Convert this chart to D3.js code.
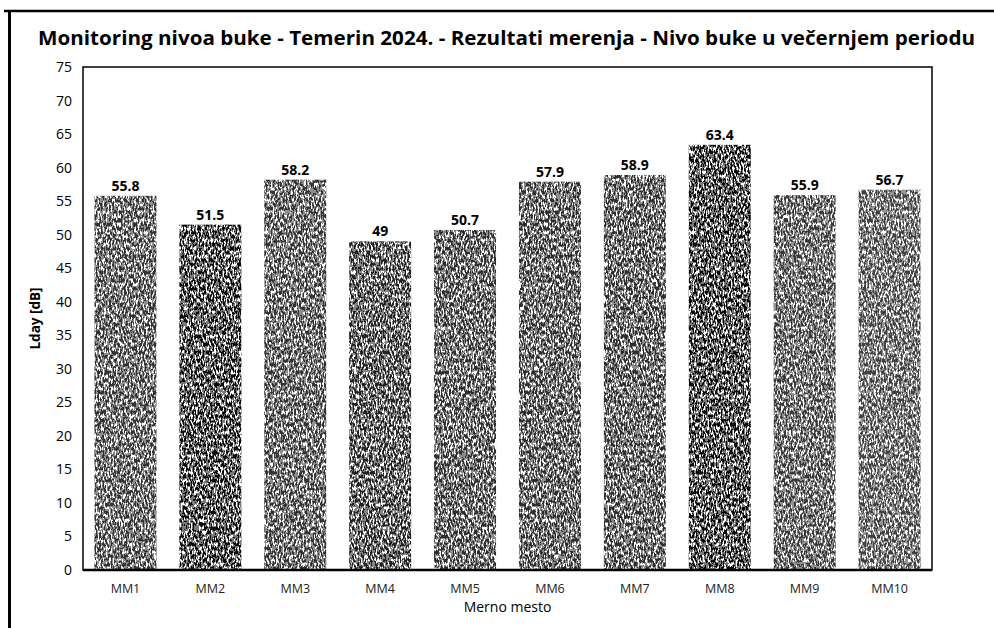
<!DOCTYPE html>
<html>
<head>
<meta charset="utf-8">
<script src="https://cdn.jsdelivr.net/npm/d3@7"></script>
<style>
  html, body { margin: 0; padding: 0; background: #fff; }
  svg { display: block; font-family: "Open Sans", "Noto Sans", sans-serif; }
</style>
</head>
<body>
<svg id="chart" width="994" height="628"></svg>
<script>
// Measurement points and evening noise levels (dB)
const categories = ["MM1", "MM2", "MM3", "MM4", "MM5", "MM6", "MM7", "MM8", "MM9", "MM10"];
const values = [55.8, 51.5, 58.2, 49, 50.7, 57.9, 58.9, 63.4, 55.9, 56.7];
const yTicks = [0, 5, 10, 15, 20, 25, 30, 35, 40, 45, 50, 55, 60, 65, 70, 75];

const titleText = "Monitoring nivoa buke - Temerin 2024. - Rezultati merenja - Nivo buke u večernjem periodu";
const yTitle = "Lday [dB]";
const xTitle = "Merno mesto";

// Base tone of each printed bar
const barShades = ["#333333", "#0c0c0c", "#333333", "#222222", "#2e2e2e", "#2e2e2e", "#2e2e2e", "#0a0a0a", "#383838", "#404040"];

const svg = d3.select("#chart");
const margin = { left: 83, top: 67, right: 62, bottom: 58 };
const W = 994, H = 628;
const plotW = W - margin.left - margin.right;
const plotH = H - margin.top - margin.bottom;

// Speckled print texture for the bars
const defs = svg.append("defs");
const f = defs.append("filter").attr("id", "grain")
  .attr("x", 0).attr("y", 0).attr("width", 1).attr("height", 1)
  .attr("color-interpolation-filters", "sRGB");
f.append("feTurbulence").attr("type", "fractalNoise")
  .attr("baseFrequency", "0.6 0.25").attr("numOctaves", 2).attr("seed", 7).attr("result", "noise");
f.append("feColorMatrix").attr("in", "noise").attr("type", "matrix")
  .attr("values", "0 0 0 0 1  0 0 0 0 1  0 0 0 0 1  1.2 0 0 0 -0.22").attr("result", "wn");
f.append("feComponentTransfer").attr("in", "wn").attr("result", "speck")
  .append("feFuncA").attr("type", "discrete").attr("tableValues", "0 0 0.45 1 1 1");
f.append("feComposite").attr("in", "speck").attr("in2", "SourceGraphic").attr("operator", "atop");

// Outer frame (top and left edges)
svg.append("line").attr("x1", 4).attr("x2", W).attr("y1", 11).attr("y2", 11)
  .attr("stroke", "#000").attr("stroke-width", 2.5);
svg.append("line").attr("x1", 9.5).attr("x2", 9.5).attr("y1", 10).attr("y2", H)
  .attr("stroke", "#000").attr("stroke-width", 3);

// Title
svg.append("text").attr("x", 38).attr("y", 45)
  .attr("font-weight", "bold").attr("font-size", 20).attr("fill", "#000")
  .attr("textLength", 937).attr("lengthAdjust", "spacingAndGlyphs")
  .text(titleText);

const g = svg.append("g").attr("transform", `translate(${margin.left},${margin.top})`);

const x = d3.scaleBand().domain(categories).range([0, plotW]).paddingInner(0.27).paddingOuter(0.135);
const y = d3.scaleLinear().domain([0, 75]).range([plotH, 0]);

// Bars
g.selectAll("rect.bar").data(values).join("rect")
  .attr("class", "bar")
  .attr("x", (d, i) => x(categories[i]))
  .attr("y", d => y(d))
  .attr("width", x.bandwidth())
  .attr("height", d => y(0) - y(d))
  .attr("fill", (d, i) => barShades[i])
  .attr("filter", "url(#grain)");

// Value labels
g.selectAll("text.val").data(values).join("text")
  .attr("class", "val")
  .attr("x", (d, i) => x(categories[i]) + x.bandwidth() / 2)
  .attr("y", d => y(d) - 5)
  .attr("text-anchor", "middle")
  .attr("font-size", 14).attr("font-weight", "bold").attr("fill", "#000")
  .text(d => d);

// Y axis labels
const yAxis = g.append("g").call(d3.axisLeft(y).tickValues(yTicks).tickSize(0).tickPadding(11));
yAxis.select(".domain").remove();
yAxis.selectAll("text").attr("font-size", 14).attr("fill", "#000")
  .attr("font-family", "\"Open Sans\", sans-serif");

// X axis labels
const xAxis = g.append("g").attr("transform", `translate(0,${plotH})`)
  .call(d3.axisBottom(x).tickSize(0).tickPadding(14));
xAxis.select(".domain").remove();
xAxis.selectAll("text").attr("font-size", 12.5).attr("fill", "#222")
  .attr("font-family", "\"Open Sans\", sans-serif");

// Plot frame
g.append("rect").attr("x", 0).attr("y", 0).attr("width", plotW).attr("height", plotH)
  .attr("fill", "none").attr("stroke", "#000").attr("stroke-width", 1.5);
g.append("line").attr("x1", 0).attr("x2", plotW).attr("y1", plotH).attr("y2", plotH)
  .attr("stroke", "#000").attr("stroke-width", 2.5);

// Axis titles
svg.append("text")
  .attr("transform", `translate(40,${margin.top + plotH / 2}) rotate(-90)`)
  .attr("text-anchor", "middle").attr("font-size", 13.5).attr("font-weight", "bold").attr("fill", "#000")
  .text(yTitle);
svg.append("text").attr("x", margin.left + plotW / 2).attr("y", 612)
  .attr("text-anchor", "middle").attr("font-size", 14).attr("fill", "#000")
  .text(xTitle);
</script>
</body>
</html>
